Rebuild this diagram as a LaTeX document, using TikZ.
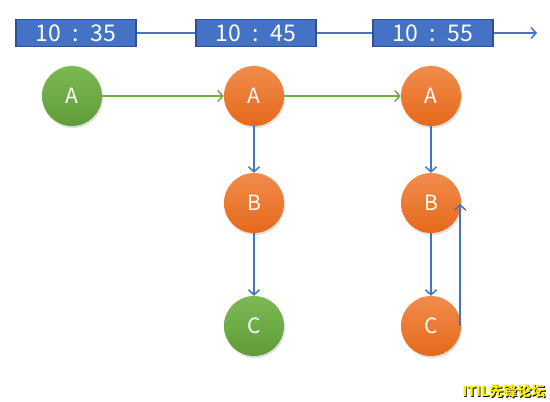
\documentclass[tikz,border=0pt]{standalone}
\usepackage{fontspec}
\setmainfont{Noto Sans CJK SC}
\usepackage{tikz}
\usetikzlibrary{arrows.meta,shadows}
\definecolor{boxblue}{HTML}{4472C4}
\definecolor{boxedge}{HTML}{2F528F}
\definecolor{gtop}{HTML}{7DBA56}
\definecolor{gbot}{HTML}{5E9C38}
\definecolor{otop}{HTML}{F18C4C}
\definecolor{obot}{HTML}{E5691A}
\definecolor{garrow}{HTML}{70AD47}

\begin{document}
\begin{tikzpicture}[x=1pt,y=-1pt]
            \tikzset{timebox/.style={draw=boxedge, line width=1.5pt, fill=boxblue, text=white,
                    minimum width=120pt, minimum height=27pt, inner sep=0pt, font=\fontsize{23}{23}\selectfont}}
            \tikzset{version/.style={circle, minimum size=60pt, inner sep=0pt, text=white,
                    font=\fontsize{21}{21}\selectfont, drop shadow={opacity=0.25, shadow xshift=1pt, shadow yshift=-2pt}}}
            \tikzset{old/.style={version, top color=gtop, bottom color=gbot}}
            \tikzset{new/.style={version, top color=otop, bottom color=obot}}
            \tikzset{barb/.style={line width=1.5pt}}
            \tikzset{tip/.style={barb, -{Straight Barb[length=5pt,width=11pt]}}}
            
            \useasboundingbox (0,0) rectangle (550,402);
            
            % time line
            \node[timebox] (t1) at (76,33) {10\enspace:\enspace35};
            \node[timebox] (t2) at (256,33) {10\enspace:\enspace45};
            \node[timebox] (t3) at (433,33) {10\enspace:\enspace55};
            \coordinate (tend) at (537,33);
            \draw[boxblue, barb] (t1) -- (t2);
            \draw[boxblue, barb] (t2) -- (t3);
            \draw[boxblue, tip] (t3) -- (tend);
            
            % versions
            \node[old] (a1) at (72,96) {A};
            \node[new] (a2) at (254,96) {A};
            \node[new] (b2) at (254,203) {B};
            \node[old] (c2) at (254,326) {C};
            \node[new] (a3) at (431,96) {A};
            \node[new] (b3) at (431,203) {B};
            \node[new] (c3) at (431,326) {C};
            \coordinate (up) at (460.2,204);
            
            \draw[garrow, tip] (a1) -- (a2);
            \draw[garrow, tip] (a2) -- (a3);
            \draw[boxblue, tip] (a2) -- (b2);
            \draw[boxblue, tip] (b2) -- (c2);
            \draw[boxblue, tip] (a3) -- (b3);
            \draw[boxblue, tip] (b3) -- (c3);
            \draw[boxblue, tip] (c3.east -| up) -- (up);
            
            % watermark
            \node[anchor=east, font=\bfseries\fontsize{14}{14}\selectfont, text=black] at (549.8,391.8) {ITIL先锋论坛};
            \node[anchor=east, font=\bfseries\fontsize{14}{14}\selectfont, text=yellow] (mark) at (549,391) {ITIL先锋论坛};
\end{tikzpicture}
\end{document}
